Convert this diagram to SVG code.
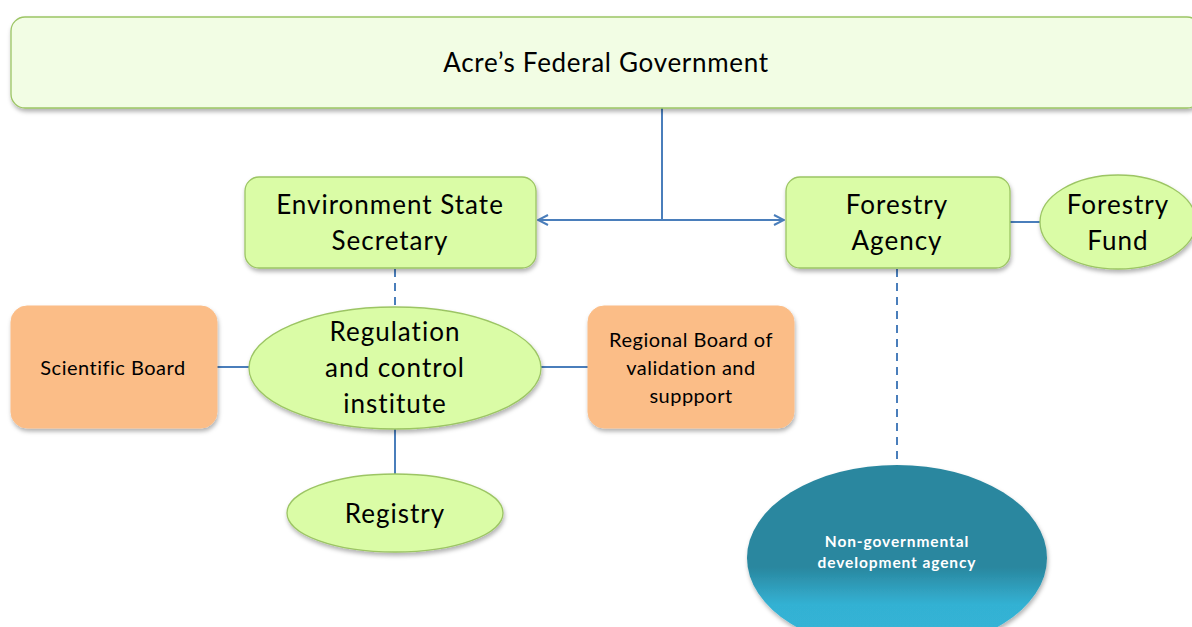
<svg xmlns="http://www.w3.org/2000/svg" width="1192" height="627" viewBox="0 0 1192 627">
<style>
.t{font-family:Lato,"Liberation Sans",sans-serif;fill:#000;text-anchor:middle}
.L{font-size:26px;letter-spacing:1px}
.S{font-size:20px;letter-spacing:0.5px}
.g{fill:#DAFCA6;stroke:#9CC564;stroke-width:1.3}
.o{fill:#FBBD87;stroke:#FBBD87;stroke-width:1}
.c{stroke:#4A7EBB;stroke-width:2;fill:none}
.d{stroke:#4A7EBB;stroke-width:2;fill:none;stroke-dasharray:8 6}
</style>
<defs>
<filter id="sh" x="-10%" y="-10%" width="120%" height="130%">
<feDropShadow dx="1" dy="3" stdDeviation="2" flood-color="#000" flood-opacity="0.3"/>
</filter>
<marker id="ar" viewBox="0 0 12 12" refX="11" refY="6" markerWidth="12" markerHeight="12" markerUnits="userSpaceOnUse" orient="auto-start-reverse">
<path d="M1,1 L11,6 L1,11" fill="none" stroke="#4A7EBB" stroke-width="2"/>
</marker>
<linearGradient id="ngo" x1="0" y1="0" x2="0" y2="1">
<stop offset="0" stop-color="#2A879F"/>
<stop offset="0.55" stop-color="#2A879F"/>
<stop offset="0.75" stop-color="#33B1D3"/>
<stop offset="1" stop-color="#35B5D8"/>
</linearGradient>
</defs>
<g id="connectors">
<path class="c" d="M662,108 V220"/>
<path class="c" d="M662,220 H538" marker-end="url(#ar)"/>
<path class="c" d="M662,220 H784" marker-end="url(#ar)"/>
<path class="c" d="M1010,222 H1041"/>
<path class="d" d="M395,269 V306"/>
<path class="c" d="M217,367 H249"/>
<path class="c" d="M541,367 H588"/>
<path class="c" d="M395,429 V474"/>
<path class="d" d="M897,269 V465"/>
</g>
<g id="federal-government">
<rect x="11" y="17" width="1190" height="91" rx="14" fill="#F2FDE4" stroke="#9CC564" stroke-width="1.3" filter="url(#sh)"/>
<text class="t" x="606" y="72" font-size="26" letter-spacing="0.7">Acre’s Federal Government</text>
</g>
<g id="environment-state-secretary">
<rect class="g" x="245" y="177" width="291" height="91" rx="14" filter="url(#sh)"/>
<text class="t L" x="390" y="214">Environment State</text>
<text class="t L" x="390" y="250">Secretary</text>
</g>
<g id="forestry-agency">
<rect class="g" x="786" y="177" width="224" height="91" rx="14" filter="url(#sh)"/>
<text class="t L" x="897" y="214">Forestry</text>
<text class="t L" x="897" y="250">Agency</text>
</g>
<g id="forestry-fund">
<ellipse class="g" cx="1118" cy="222" rx="78" ry="47" filter="url(#sh)"/>
<text class="t L" x="1118" y="214">Forestry</text>
<text class="t L" x="1118" y="250">Fund</text>
</g>
<g id="scientific-board">
<rect class="o" x="11" y="306" width="206" height="122" rx="16" filter="url(#sh)"/>
<text class="t S" x="113" y="375">Scientific Board</text>
</g>
<g id="regulation-control-institute">
<ellipse class="g" cx="395" cy="368" rx="146" ry="61" filter="url(#sh)"/>
<text class="t L" x="395" y="341">Regulation</text>
<text class="t L" x="395" y="377">and control</text>
<text class="t L" x="395" y="413">institute</text>
</g>
<g id="regional-board">
<rect class="o" x="588" y="306" width="206" height="122" rx="16" filter="url(#sh)"/>
<text class="t S" x="691" y="347">Regional Board of</text>
<text class="t S" x="691" y="375">validation and</text>
<text class="t S" x="691" y="403">suppport</text>
</g>
<g id="registry">
<ellipse class="g" cx="395" cy="513" rx="108" ry="39" filter="url(#sh)"/>
<text class="t L" x="395" y="523">Registry</text>
</g>
<g id="ngo-agency">
<ellipse cx="897" cy="558" rx="150" ry="93" fill="url(#ngo)" filter="url(#sh)"/>
<text class="t" x="897" y="547" font-size="15.5" font-weight="bold" letter-spacing="0.9" style="fill:#fff">Non-governmental</text>
<text class="t" x="897" y="568" font-size="15.5" font-weight="bold" letter-spacing="0.9" style="fill:#fff">development agency</text>
</g>
</svg>
